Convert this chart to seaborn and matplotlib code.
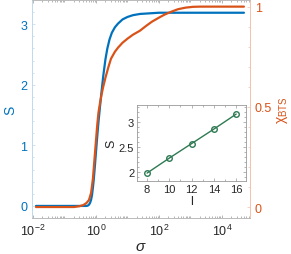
import matplotlib
matplotlib.use("Agg")
import matplotlib.pyplot as plt
import matplotlib.ticker as mticker
import numpy as np
import pandas as pd
import seaborn as sns

# values
sigma_S = [0.0125, 0.1, 0.3, 0.5, 0.55, 0.6, 0.65, 0.7, 0.75, 0.8, 0.85, 0.9, 1.0, 1.1, 1.2,
           1.35, 1.5, 1.7, 2.0, 2.3, 2.7, 3.2, 4.0, 5.0, 7.0, 10.0, 15.0, 25.0, 50.0, 100.0,
           1e3, 1e4, 5e4]
S_vals = [0.0, 0.0, 0.0, 0.0, 0.005, 0.02, 0.05, 0.1, 0.18, 0.3, 0.43, 0.58, 0.88, 1.15, 1.38,
          1.65, 1.88, 2.14, 2.42, 2.6, 2.75, 2.86, 2.95, 3.01, 3.08, 3.12, 3.15, 3.17, 3.18, 3.19,
          3.19, 3.19, 3.19]

sigma_chi = [0.0125, 0.1, 0.2, 0.3, 0.4, 0.5, 0.6, 0.7, 0.8, 0.9, 1.0, 1.1, 1.2, 1.35, 1.5,
             1.7, 2.0, 2.5, 3.0, 4.0, 5.0, 7.0, 10.0, 15.0, 25.0, 40.0, 60.0, 100.0, 150.0,
             250.0, 400.0, 700.0, 1200.0, 2000.0, 1e4, 5e4]
chi_vals = [0.0, 0.0, 0.0, 0.004, 0.01, 0.02, 0.035, 0.07, 0.14, 0.24, 0.33, 0.41, 0.47, 0.52,
            0.56, 0.6, 0.645, 0.70, 0.74, 0.775, 0.795, 0.82, 0.84, 0.86, 0.88, 0.905, 0.925,
            0.945, 0.96, 0.975, 0.987, 0.995, 0.999, 1.0, 1.0, 1.0]

l_vals = [8, 10, 12, 14, 16]
S_l = [1.98, 2.28, 2.57, 2.86, 3.16]

blue = "#0072BD"
orange = "#D95319"
green = "#2E7A52"
grey = "#262626"

sns.set_style("ticks")
plt.rcParams["font.family"] = ["Liberation Sans", "DejaVu Sans"]
plt.rcParams["mathtext.fontset"] = "custom"
plt.rcParams["mathtext.rm"] = "Liberation Sans"
plt.rcParams["mathtext.it"] = "Liberation Sans:italic"
plt.rcParams["mathtext.default"] = "regular"
plt.rcParams["xtick.direction"] = "in"
plt.rcParams["ytick.direction"] = "in"
plt.rcParams["axes.linewidth"] = 0.6

df_S = pd.DataFrame({"sigma": sigma_S, "S": S_vals})
df_chi = pd.DataFrame({"sigma": sigma_chi, "chi": chi_vals})
df_l = pd.DataFrame({"l": l_vals, "S": S_l})

fig = plt.figure(figsize=(2.91, 2.55), dpi=100)
ax = fig.add_axes([0.11, 0.141, 0.749, 0.855])
sns.lineplot(data=df_S, x="sigma", y="S", ax=ax, color=blue, lw=1.6)
ax.set_xscale("log")
ax.set_xlim(10 ** -2.03, 10 ** 4.89)
ax.set_ylim(-0.2, 3.4)

ax2 = ax.twinx()
sns.lineplot(data=df_chi, x="sigma", y="chi", ax=ax2, color=orange, lw=1.6)
ax2.set_ylim(-0.055, 1.033)
ax2.set_xlim(10 ** -2.03, 10 ** 4.89)

ax.xaxis.set_major_locator(mticker.FixedLocator([1e-2, 1, 1e2, 1e4]))
ax.xaxis.set_minor_locator(mticker.LogLocator(base=10, subs=np.arange(1, 10), numticks=20))
ax.xaxis.set_minor_formatter(mticker.NullFormatter())
ax.set_xticklabels([r"$10^{-2}$", r"$10^{0}$", r"$10^{2}$", r"$10^{4}$"])
ax.set_yticks([0, 1, 2, 3])
ax.yaxis.set_minor_locator(mticker.MultipleLocator(0.2))
ax2.set_yticks([0, 0.5, 1])
ax2.set_yticklabels(["0", "0.5", "1"])
ax2.yaxis.set_minor_locator(mticker.MultipleLocator(0.1))

ax.tick_params(axis="x", which="both", top=True, colors="#999999", labelcolor=grey, labelsize=9,
               length=2.5, width=0.5)
ax.tick_params(axis="x", which="minor", length=1.5)
ax.tick_params(axis="y", which="both", colors="#BFD9EE", labelcolor=blue, labelsize=9,
               length=2.5, width=0.5)
ax2.tick_params(axis="y", which="both", colors="#F2C2AC", labelcolor=orange, labelsize=9,
                length=2.5, width=0.5)
ax2.tick_params(axis="y", which="minor", length=1.5)
ax.tick_params(axis="y", which="minor", length=1.5)

for a in (ax, ax2):
    a.spines["top"].set_visible(True)
    a.spines["top"].set_color("#BBBBBB")
    a.spines["bottom"].set_color("#BBBBBB")
    a.spines["left"].set_color("#BFD9EE")
    a.spines["right"].set_color("#F2C2AC")
    a.spines["right"].set_visible(True)

ax.set_xlabel(r"$\it{\sigma}$", fontsize=11, color=grey, labelpad=1)
ax.set_ylabel("S", fontsize=10, color=blue, labelpad=2)
ax2.set_ylabel(r"χ$_{BTS}$", fontsize=10, color=orange, labelpad=2)

# inset
axi = fig.add_axes([0.471, 0.286, 0.375, 0.298])
sns.lineplot(data=df_l, x="l", y="S", ax=axi, color=green, lw=1.0, marker="o", markersize=4,
             markerfacecolor="none", markeredgecolor=green, markeredgewidth=1.0)
axi.set_xlim(7.1, 16.9)
axi.set_ylim(1.82, 3.34)
axi.set_xticks(l_vals)
axi.set_yticks([2, 2.5, 3])
axi.set_yticklabels(["2", "2.5", "3"])
axi.xaxis.set_minor_locator(mticker.MultipleLocator(1))
axi.yaxis.set_minor_locator(mticker.MultipleLocator(0.1))
axi.tick_params(which="both", top=True, right=True, colors="#999999", labelcolor=grey,
                labelsize=8, length=2, width=0.5, pad=2)
axi.tick_params(which="minor", length=1.2)
for s in axi.spines.values():
    s.set_visible(True)
    s.set_color("#999999")
    s.set_linewidth(0.6)
axi.set_xlabel("l", fontsize=9, color=grey, labelpad=1)
axi.set_ylabel("S", fontsize=9, color=grey, labelpad=1)

fig.savefig("out.png", dpi=100)
